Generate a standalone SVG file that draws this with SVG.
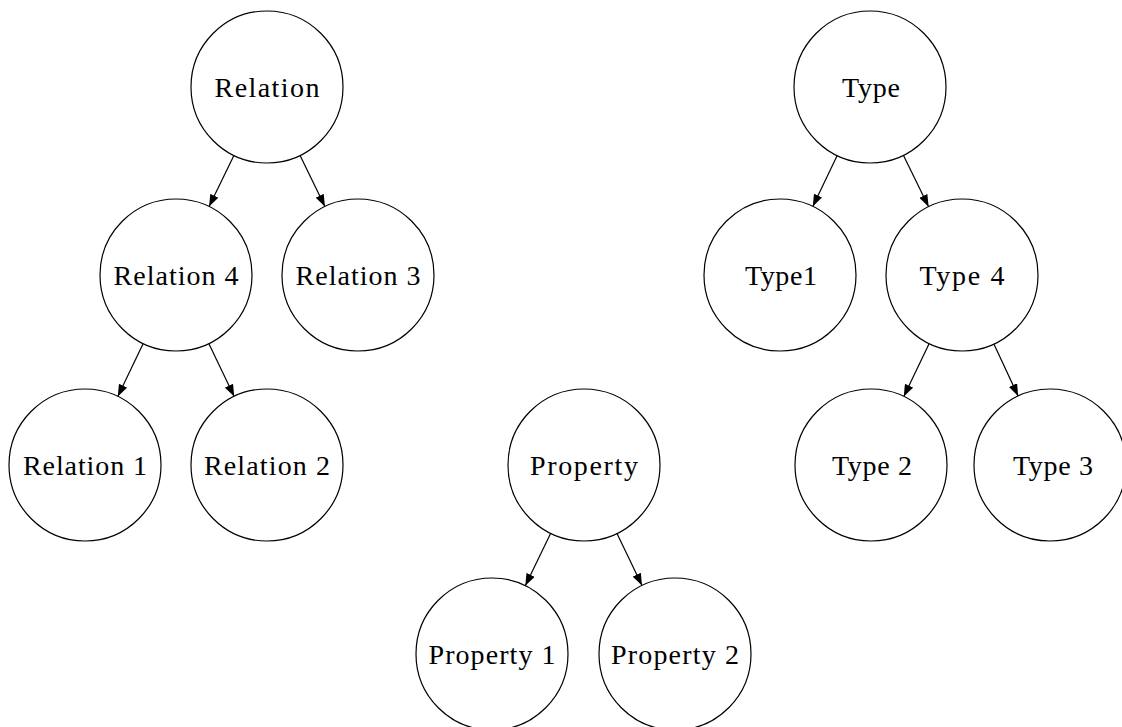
<svg xmlns="http://www.w3.org/2000/svg" width="1122" height="727" viewBox="0 0 1122 727">
<style>
.node circle{fill:#fff;stroke:#000;stroke-width:1.2}
.node text{font-family:"Liberation Serif",serif;font-size:28px;fill:#000;text-anchor:middle}
.edges line{stroke:#000;stroke-width:1.2;marker-end:url(#ah)}
</style>
<defs>
<marker id="ah" viewBox="0 0 12 9" refX="12" refY="4.5" markerWidth="12" markerHeight="9" markerUnits="userSpaceOnUse" orient="auto">
<path d="M0,0 L12,4.5 L0,9 Z" fill="#000"/>
</marker>
</defs>
<rect width="1122" height="727" fill="#fff"/>
<g class="edges">
<line x1="233.9" y1="155.4" x2="209.1" y2="206.6"/>
<line x1="300.1" y1="155.4" x2="324.9" y2="206.6"/>
<line x1="143.2" y1="343.5" x2="117.8" y2="396.5"/>
<line x1="208.8" y1="343.5" x2="234.2" y2="396.5"/>
<line x1="550.7" y1="533.3" x2="525.3" y2="585.7"/>
<line x1="617" y1="533.5" x2="642" y2="585.5"/>
<line x1="837.2" y1="155.6" x2="812.8" y2="206.4"/>
<line x1="903.4" y1="155.3" x2="928.6" y2="206.7"/>
<line x1="929.2" y1="343.5" x2="903.8" y2="396.5"/>
<line x1="993.9" y1="344" x2="1018.1" y2="396"/>
</g>
<g id="relation" class="node"><circle cx="267" cy="87" r="76"/><text x="267" y="97" textLength="105">Relation</text></g>
<g id="relation4" class="node"><circle cx="176" cy="275" r="76"/><text x="176" y="285" textLength="125">Relation 4</text></g>
<g id="relation3" class="node"><circle cx="358" cy="275" r="76"/><text x="358" y="285" textLength="125">Relation 3</text></g>
<g id="relation1" class="node"><circle cx="85" cy="465" r="76"/><text x="85" y="475" textLength="124">Relation 1</text></g>
<g id="relation2" class="node"><circle cx="267" cy="465" r="76"/><text x="267" y="475" textLength="126">Relation 2</text></g>
<g id="property" class="node"><circle cx="584" cy="465" r="76"/><text x="584" y="475" textLength="108">Property</text></g>
<g id="property1" class="node"><circle cx="492" cy="654" r="76"/><text x="492" y="664" textLength="127">Property 1</text></g>
<g id="property2" class="node"><circle cx="675" cy="654" r="76"/><text x="675" y="664" textLength="128">Property 2</text></g>
<g id="type" class="node"><circle cx="870" cy="87" r="76"/><text x="871" y="97" textLength="58">Type</text></g>
<g id="type1" class="node"><circle cx="780" cy="275" r="76"/><text x="781" y="285" textLength="72">Type1</text></g>
<g id="type4" class="node"><circle cx="962" cy="275" r="76"/><text x="962" y="285" textLength="85">Type 4</text></g>
<g id="type2" class="node"><circle cx="871" cy="465" r="76"/><text x="872" y="475" textLength="80">Type 2</text></g>
<g id="type3" class="node"><circle cx="1050" cy="465" r="76"/><text x="1053" y="475" textLength="80">Type 3</text></g>
</svg>
